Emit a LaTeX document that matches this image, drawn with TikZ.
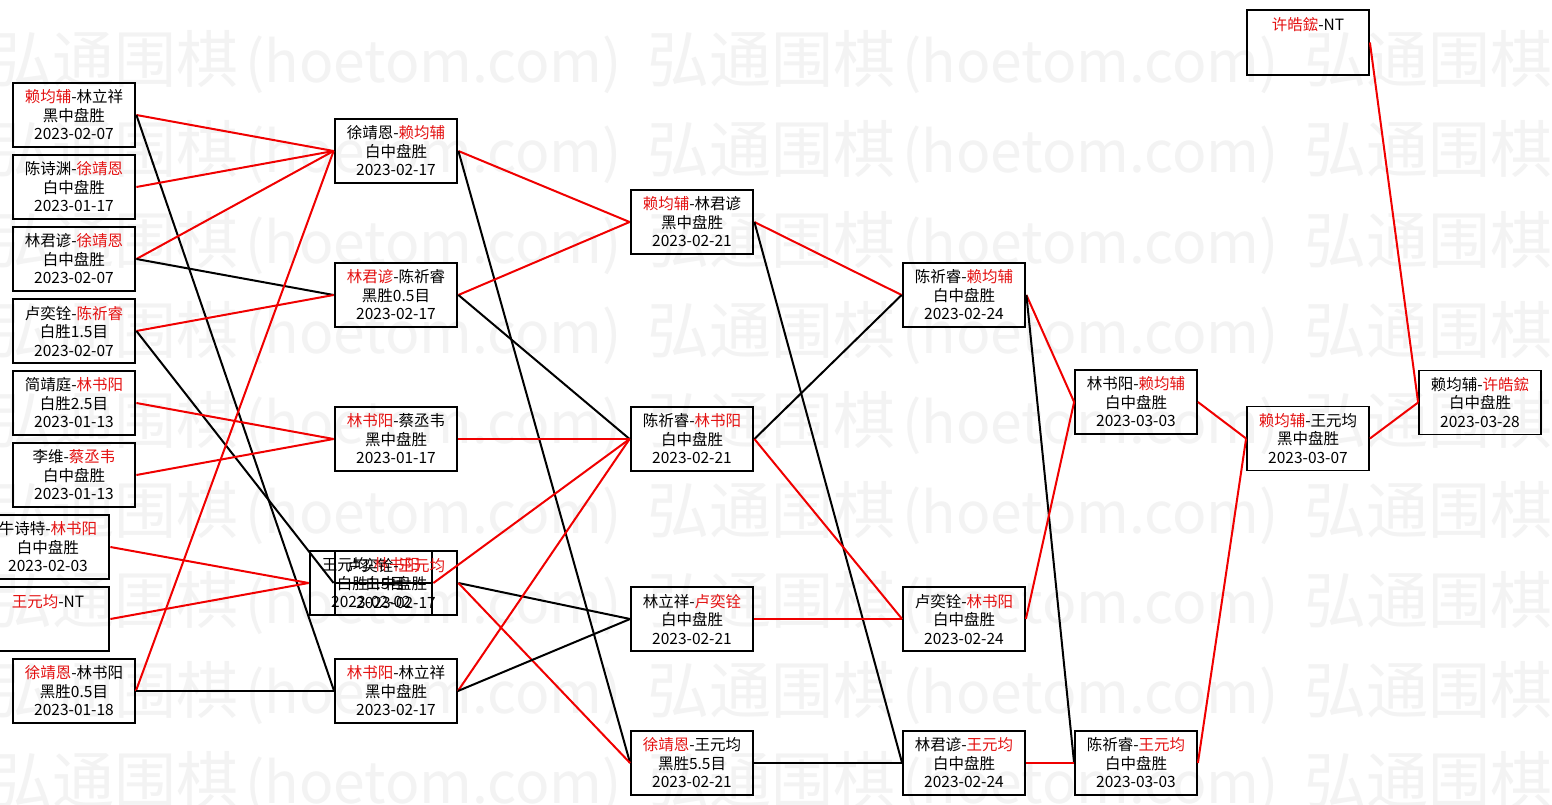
\documentclass[tikz,border=0pt]{standalone}
\usepackage{fontspec}
\setmainfont{Noto Sans CJK SC}
\definecolor{wr}{RGB}{228,18,18}
\definecolor{lr}{RGB}{240,0,0}
\definecolor{wmc}{RGB}{243,243,243}
\newcommand\W[1]{\textcolor{wr}{#1}}
\tikzset{
  game/.style={draw=black, rectangle, minimum width=122pt, minimum height=64pt,
    inner sep=0pt, align=center, font=\fontsize{15.5}{18.5}\selectfont, line width=1.8pt},
  gthick/.style={game, line width=2.8pt},
  wm/.style={text=wmc, inner sep=0pt, anchor=base west, font=\fontsize{62}{62}\selectfont},
  wmlat/.style={wm, font=\fontsize{57}{57}\selectfont},
  wl/.style={draw=lr, line width=2pt},
  ll/.style={draw=black, line width=2pt}
}
\begin{document}
\begin{tikzpicture}[x=1pt,y=-1pt]
\useasboundingbox (0,0) rectangle (1552,805);
\clip (0,0) rectangle (1552,805);
\fill[white] (0,0) rectangle (1552,805);
% watermark
\foreach \r in {0,...,8}{
  \foreach \c [count=\k] in {-10,647,1304}{
    \node[wm] (wmh-\r-\k) at (\c,{83+90*\r}) {弘通围棋};
    \node[wmlat] (wml-\r-\k) at ({\c+255},{83+90*\r}) {(hoetom.com)};
  }
}
% column 1
\node[gthick] (c1a) at (74,115) {\W{赖均辅}-林立祥\\黑中盘胜\\2023-02-07};
\node[gthick] (c1b) at (74,187) {陈诗渊-\W{徐靖恩}\\白中盘胜\\2023-01-17};
\node[gthick] (c1c) at (74,259) {林君谚-\W{徐靖恩}\\白中盘胜\\2023-02-07};
\node[gthick] (c1d) at (74,331) {卢奕铨-\W{陈祈睿}\\白胜1.5目\\2023-02-07};
\node[gthick] (c1e) at (74,403) {简靖庭-\W{林书阳}\\白胜2.5目\\2023-01-13};
\node[gthick] (c1f) at (74,475) {李维-\W{蔡丞韦}\\白中盘胜\\2023-01-13};
\node[gthick] (c1g) at (48,547) {牛诗特-\W{林书阳}\\白中盘胜\\2023-02-03};
\node[gthick] (c1h) at (48,619) {\W{王元均}-NT\\\mbox{}\\\mbox{}};
\node[game]   (c1i) at (74,691) {\W{徐靖恩}-林书阳\\黑胜0.5目\\2023-01-18};
% column 2
\node[gthick] (c2a) at (396,151) {徐靖恩-\W{赖均辅}\\白中盘胜\\2023-02-17};
\node[gthick] (c2b) at (396,295) {\W{林君谚}-陈祈睿\\黑胜0.5目\\2023-02-17};
\node[gthick] (c2c) at (396,439) {\W{林书阳}-蔡丞韦\\黑中盘胜\\2023-01-17};
\node[gthick] (c2A) at (371,583) {王元均-\W{林书阳}\\白胜1.5目\\2023-02-02};
\node[gthick] (c2B) at (396,583) {卢奕铨-\W{王元均}\\白中盘胜\\2023-02-17};
\node[game]   (c2f) at (396,691) {\W{林书阳}-林立祥\\黑中盘胜\\2023-02-17};
% column 3
\node[gthick] (c3a) at (692,222) {\W{赖均辅}-林君谚\\黑中盘胜\\2023-02-21};
\node[gthick] (c3b) at (692,439) {陈祈睿-\W{林书阳}\\白中盘胜\\2023-02-21};
\node[game]   (c3c) at (692,619) {林立祥-\W{卢奕铨}\\白中盘胜\\2023-02-21};
\node[game]   (c3d) at (692,763) {\W{徐靖恩}-王元均\\黑胜5.5目\\2023-02-21};
% column 4
\node[gthick] (c4a) at (964,295) {陈祈睿-\W{赖均辅}\\白中盘胜\\2023-02-24};
\node[game]   (c4b) at (964,619) {卢奕铨-\W{林书阳}\\白中盘胜\\2023-02-24};
\node[game]   (c4c) at (964,763) {林君谚-\W{王元均}\\白中盘胜\\2023-02-24};
% column 5
\node[game] (c5a) at (1136,402) {林书阳-\W{赖均辅}\\白中盘胜\\2023-03-03};
\node[game] (c5b) at (1136,763) {陈祈睿-\W{王元均}\\白中盘胜\\2023-03-03};
% column 6
\node[game, minimum height=65pt] (c6a) at (1308,42.5) {\W{许皓鋐}-NT\\\mbox{}\\\mbox{}};
\node[game] (c6b) at (1308,438.5) {\W{赖均辅}-王元均\\黑中盘胜\\2023-03-07};
% column 7
\node[game] (c7a) at (1480,402.5) {赖均辅-\W{许皓鋐}\\白中盘胜\\2023-03-28};
% connectors column 1 -> 2
\draw[wl] (c1a.east) -- (c2a.west);
\draw[ll] (c1a.east) -- (c2f.west);
\draw[wl] (c1b.east) -- (c2a.west);
\draw[wl] (c1c.east) -- (c2a.west);
\draw[ll] (c1c.east) -- (c2b.west);
\draw[wl] (c1d.east) -- (c2b.west);
\draw[ll] (c1d.east) -- (c2B.west);
\draw[wl] (c1e.east) -- (c2c.west);
\draw[wl] (c1f.east) -- (c2c.west);
\draw[wl] (c1g.east) -- (c2A.west);
\draw[wl] (c1h.east) -- (c2A.west);
\draw[wl] (c1i.east) -- (c2a.west);
\draw[ll] (c1i.east) -- (c2f.west);
% column 2 -> 3
\draw[wl] (c2a.east) -- (c3a.west);
\draw[ll] (c2a.east) -- (c3d.west);
\draw[wl] (c2b.east) -- (c3a.west);
\draw[ll] (c2b.east) -- (c3b.west);
\draw[wl] (c2c.east) -- (c3b.west);
\draw[wl] (c2A.east) -- (c3b.west);
\draw[ll] (c2A.east) -- (c2B.west);
\draw[ll] (c2B.east) -- (c3c.west);
\draw[wl] (c2B.east) -- (c3d.west);
\draw[wl] (c2f.east) -- (c3b.west);
\draw[ll] (c2f.east) -- (c3c.west);
% column 3 -> 4
\draw[wl] (c3a.east) -- (c4a.west);
\draw[ll] (c3a.east) -- (c4c.west);
\draw[ll] (c3b.east) -- (c4a.west);
\draw[wl] (c3b.east) -- (c4b.west);
\draw[wl] (c3c.east) -- (c4b.west);
\draw[ll] (c3d.east) -- (c4c.west);
% column 4 -> 5
\draw[wl] (c4a.east) -- (c5a.west);
\draw[ll] (c4a.east) -- (c5b.west);
\draw[wl] (c4b.east) -- (c5a.west);
\draw[wl] (c4c.east) -- (c5b.west);
% column 5 -> 6 -> 7
\draw[wl] (c5a.east) -- (c6b.west);
\draw[wl] (c5b.east) -- (c6b.west);
\draw[wl] (c6a.east) -- (c7a.west);
\draw[wl] (c6b.east) -- (c7a.west);
\end{tikzpicture}
\end{document}
